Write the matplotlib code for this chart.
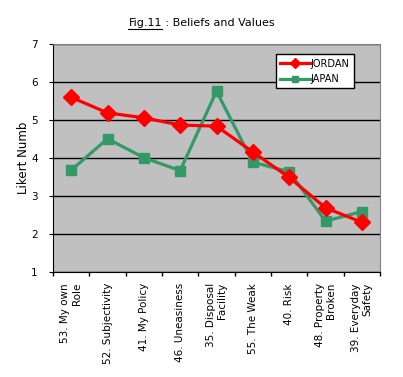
import numpy as np
import matplotlib
matplotlib.use('Agg')
import matplotlib.pyplot as plt
from matplotlib.ticker import FixedLocator

categories = ['53. My own\nRole', '52. Subjectivity', '41. My Policy', '46. Uneasiness',
              '35. Disposal\nFacility', '55. The Weak', '40. Risk', '48. Property\nBroken',
              '39. Everyday\nSafety']
jordan = [5.60, 5.19, 5.06, 4.87, 4.84, 4.16, 3.49, 2.69, 2.31]
japan = [3.68, 4.51, 4.01, 3.67, 5.76, 3.89, 3.64, 2.34, 2.59]

plt.rcParams['font.family'] = ['DejaVu Sans']

fig = plt.figure(figsize=(4.03, 3.77), dpi=100)
ax = fig.add_axes([0.1315, 0.2785, 0.8115, 0.6045])
ax.set_facecolor('#C0C0C0')

x = np.arange(len(categories)) + 0.5
ax.plot(x, jordan, color='#FF0000', lw=2.3, marker='D', ms=8.5, label='JORDAN', zorder=4)
ax.plot(x, japan, color='#339966', lw=2.3, marker='s', ms=7.8, label='JAPAN', zorder=3)

ax.set_xlim(0, len(categories))
ax.set_ylim(1, 7)
ax.set_yticks(range(1, 8))
ax.yaxis.grid(True, color='black', lw=1)
ax.set_axisbelow(True)

# category boundaries get tick marks, centres get the labels
ax.xaxis.set_major_locator(FixedLocator(range(len(categories) + 1)))
ax.set_xticklabels([''] * (len(categories) + 1))
ax.xaxis.set_minor_locator(FixedLocator(x))
ax.set_xticklabels(categories, minor=True, rotation=90, fontsize=7.5,
                   va='top', ha='center', multialignment='right')
ax.tick_params(axis='x', which='minor', length=0, pad=8)
ax.tick_params(axis='x', which='major', length=3, direction='out', width=1)
ax.tick_params(axis='y', length=3, direction='out', labelsize=7.5, pad=8)

for s in ['top', 'right']:
    ax.spines[s].set_color('#808080')
for s in ['left', 'bottom']:
    ax.spines[s].set_color('black')

ax.set_ylabel('Likert Numb', fontsize=8.5)
ax.yaxis.set_label_coords(-0.07, 0.5)

leg = ax.legend(loc='upper right', bbox_to_anchor=(0.92, 0.955), fontsize=7,
                frameon=True, fancybox=False, edgecolor='black', framealpha=1,
                handlelength=3.0, borderpad=0.45, labelspacing=0.55, handletextpad=0.1,
                borderaxespad=0)
leg.get_frame().set_linewidth(1)
for h in leg.legend_handles:
    h.set_markersize(5)

# title with underlined "Fig.11"
t1 = fig.text(0.5, 0.93, 'Fig.11', ha='right', va='baseline', fontsize=8)
t2 = fig.text(0.5, 0.93, ' : Beliefs and Values', ha='left', va='baseline', fontsize=8)
fig.canvas.draw()
r = fig.canvas.get_renderer()
bb = t1.get_window_extent(r)
w = t2.get_window_extent(r).width
shift = (bb.width - w) / 2 / fig.bbox.width
t1.set_x(0.5 + shift)
t2.set_x(0.5 + shift)
fig.canvas.draw()
bb = t1.get_window_extent(r).transformed(fig.transFigure.inverted())
fig.add_artist(plt.Line2D([bb.x0, bb.x1], [0.93 - 0.006, 0.93 - 0.006],
                          transform=fig.transFigure, color='black', lw=0.8))

fig.savefig('out.png', dpi=100)
